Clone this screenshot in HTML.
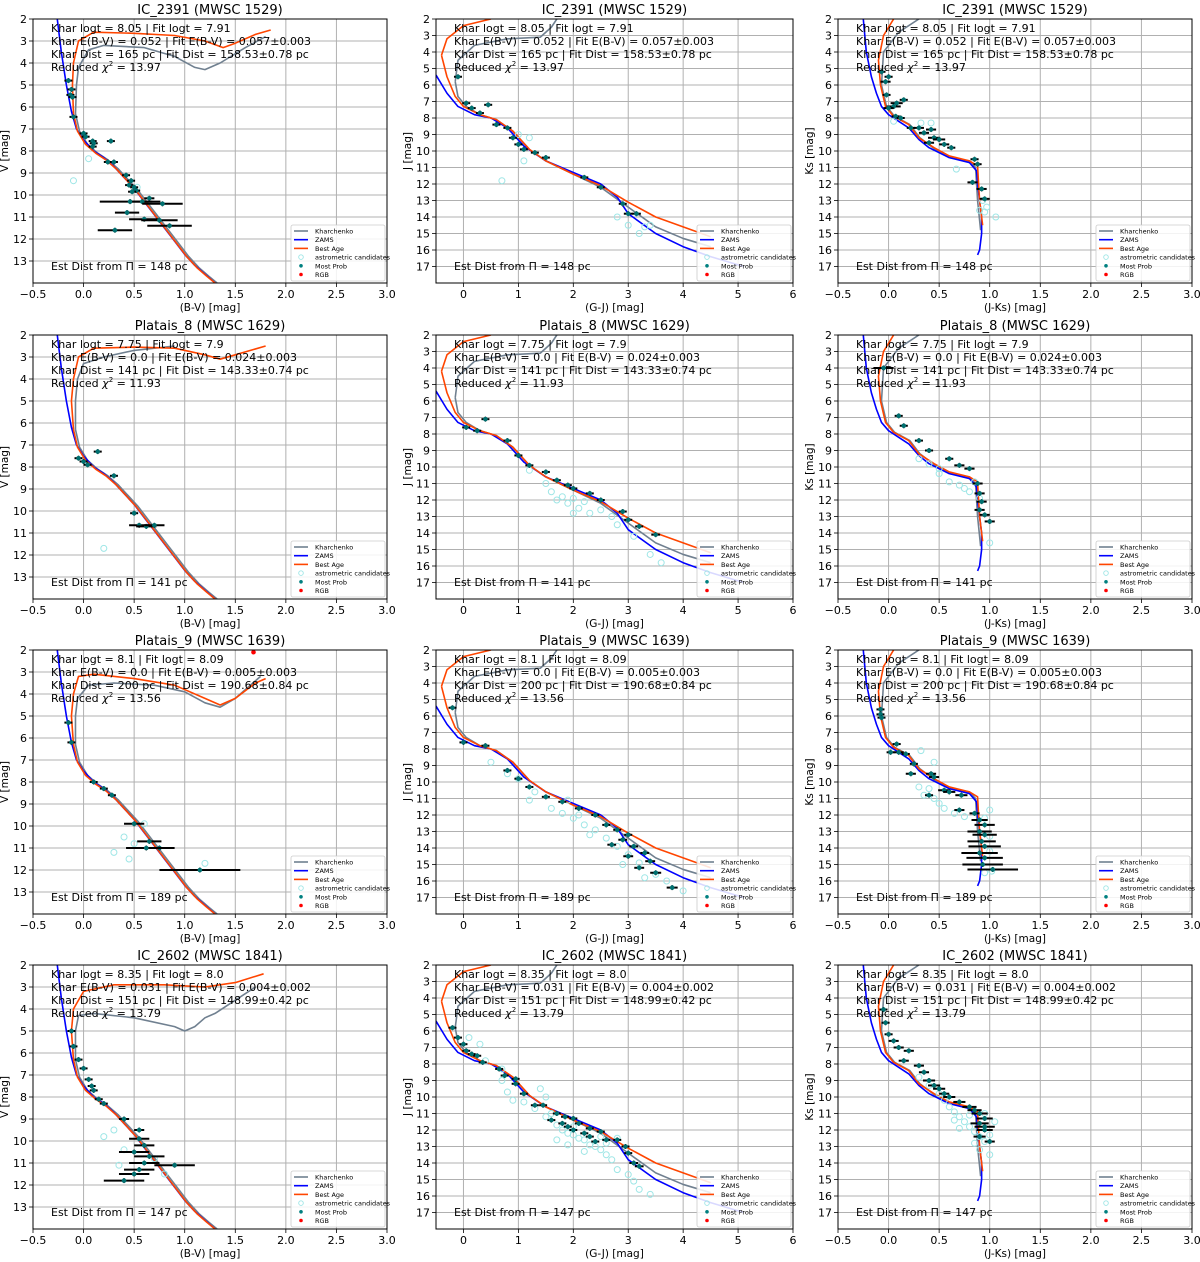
<!DOCTYPE html>
<html><head><meta charset="utf-8">
<style>
html,body{margin:0;padding:0;background:#fff;}
svg{display:block;font-family:"DejaVu Sans","Liberation Sans",sans-serif;}
</style></head>
<body>
<svg id="fig" width="1200" height="1262" viewBox="0 0 1200 1262"></svg>
<script>
// ---------- DATA ----------
const clusterTitles = ["IC_2391 (MWSC 1529)","Platais_8 (MWSC 1629)","Platais_9 (MWSC 1639)","IC_2602 (MWSC 1841)"];
const annLogt = ["Khar logt = 8.05 | Fit logt = 7.91","Khar logt = 7.75 | Fit logt = 7.9","Khar logt = 8.1 | Fit logt = 8.09","Khar logt = 8.35 | Fit logt = 8.0"];
const annEbv = ["Khar E(B-V) = 0.052  |  Fit E(B-V) = 0.057±0.003","Khar E(B-V) = 0.0  |  Fit E(B-V) = 0.024±0.003","Khar E(B-V) = 0.0  |  Fit E(B-V) = 0.005±0.003","Khar E(B-V) = 0.031  |  Fit E(B-V) = 0.004±0.002"];
const annDist = ["Khar Dist = 165 pc  |  Fit Dist = 158.53±0.78 pc","Khar Dist = 141 pc  |  Fit Dist = 143.33±0.74 pc","Khar Dist = 200 pc  |  Fit Dist = 190.68±0.84 pc","Khar Dist = 151 pc  |  Fit Dist = 148.99±0.42 pc"];
const annChi = ["13.97","11.93","13.56","13.79"];
const annPlx = ["148","141","189","147"];

const xTicksBV = [-0.5,0.0,0.5,1.0,1.5,2.0,2.5,3.0];
const xTicksGJ = [0,1,2,3,4,5,6];
const yTicksV = [2,3,4,5,6,7,8,9,10,11,12,13];
const yTicksJ = [2,3,4,5,6,7,8,9,10,11,12,13,14,15,16,17];

const zamsBV = [[-0.26,2],[-0.22,3.5],[-0.17,5],[-0.12,6.2],[-0.07,7.0],[0.0,7.5],[0.1,8.0],[0.2,8.3],[0.3,8.7],[0.4,9.2],[0.5,9.7],[0.6,10.3],[0.7,10.9],[0.8,11.5],[0.9,12.1],[1.0,12.7],[1.1,13.2],[1.2,13.6],[1.3,14.0]];
const bestBV = [[-0.1,6.3],[-0.06,7.1],[0.02,7.7],[0.12,8.1],[0.22,8.4],[0.32,8.8],[0.42,9.3],[0.52,9.8],[0.62,10.4],[0.72,11.0],[0.82,11.6],[0.92,12.2],[1.02,12.8],[1.12,13.3],[1.22,13.7],[1.3,14.0]];
const khBV = [[-0.08,6.3],[-0.04,7.1],[0.04,7.7],[0.14,8.1],[0.24,8.4],[0.34,8.8],[0.44,9.3],[0.54,9.8],[0.64,10.4],[0.74,11.0],[0.84,11.6],[0.94,12.2],[1.04,12.8],[1.14,13.3],[1.24,13.7],[1.32,14.0]];
const upBestBV = [
 [[-0.1,6.3],[-0.11,5],[-0.1,4],[-0.05,3.0],[0.1,2.6],[0.5,2.65],[0.9,2.75],[1.2,3.0],[1.38,3.3],[1.5,3.1],[1.7,2.7],[1.85,2.5]],
 [[-0.1,6.3],[-0.12,5],[-0.1,4],[-0.05,3.0],[0.1,2.6],[0.5,2.55],[0.9,2.6],[1.2,2.9],[1.35,3.1],[1.5,2.9],[1.8,2.5]],
 [[-0.1,6.3],[-0.12,5],[-0.1,4],[-0.05,3.2],[0.1,3.1],[0.5,3.3],[0.9,3.6],[1.2,4.2],[1.35,4.5],[1.5,4.2],[1.7,3.5],[1.8,3.3]],
 [[-0.1,6.3],[-0.12,5],[-0.1,4],[0.0,3.2],[0.3,2.9],[0.8,2.9],[1.2,3.0],[1.5,2.8],[1.78,2.4]]];
const upKhBV = [
 [[-0.08,6.3],[-0.07,5],[-0.05,4.2],[0.05,3.4],[0.2,3.2],[0.6,3.3],[0.9,3.7],[1.1,4.2],[1.2,4.3],[1.35,4.0],[1.6,3.3],[1.8,2.8]],
 [[-0.08,6.3],[-0.08,5],[-0.06,4.0],[0.0,3.3],[0.2,3.0],[0.5,2.7],[0.9,2.5]],
 [[-0.08,6.3],[-0.08,5],[-0.06,4.2],[0.05,3.6],[0.3,3.5],[0.7,3.6],[1.0,3.9],[1.2,4.4],[1.35,4.6],[1.5,4.2],[1.75,3.2]],
 [[-0.08,6.3],[-0.08,5],[-0.05,4.3],[0.1,4.2],[0.5,4.4],[0.9,4.8],[1.0,5.0],[1.1,4.8],[1.2,4.4],[1.3,4.2],[1.5,3.6],[1.7,3.0]]];

const zamsGJ = [[-0.5,5.4],[-0.3,6.5],[-0.1,7.3],[0.2,7.8],[0.5,8.0],[0.8,8.6],[1.1,9.7],[1.5,10.6],[2,11.3],[2.5,12.0],[2.8,12.8],[3,13.8],[3.5,15.0],[4,15.8],[4.5,16.4],[5.1,17.0]];
const bestGJ = [[-0.4,4.2],[-0.3,5.5],[-0.15,6.7],[0.0,7.3],[0.3,7.8],[0.6,8.1],[0.9,8.8],[1.2,9.9],[1.5,10.6],[2,11.4],[2.5,12.1],[3,13.1],[3.5,14.0],[4,14.6],[4.5,15.2]];
const khGJ = [[-0.15,5.8],[-0.1,6.7],[0.05,7.3],[0.3,7.8],[0.6,8.1],[0.9,8.8],[1.2,9.9],[1.5,10.6],[2,11.4],[2.5,12.2],[3,13.4],[3.5,14.6],[4,15.3],[4.5,15.8]];
const upBestGJ = [[-0.4,4.2],[-0.3,3.2],[0.0,2.4],[0.5,2.0]];
const upKhGJ = [[-0.15,5.8],[-0.1,4.5],[0.2,3.6],[0.8,3.2],[1.4,3.1],[1.6,2.5],[1.7,2.0]];

const zamsJK = [[-0.25,2],[-0.22,4],[-0.17,5.5],[-0.12,6.5],[-0.07,7.3],[0.0,7.8],[0.1,8.2],[0.2,8.6],[0.3,9.3],[0.4,9.8],[0.6,10.4],[0.8,10.7],[0.87,11.2],[0.88,12],[0.9,13],[0.92,14],[0.92,15],[0.9,16],[0.88,16.3]];
const bestJK = [[0.05,2],[-0.05,3],[-0.1,4.5],[-0.08,6],[-0.03,7.3],[0.05,7.9],[0.2,8.4],[0.3,9.2],[0.45,9.8],[0.6,10.3],[0.8,10.6],[0.88,10.9],[0.89,12],[0.9,13],[0.93,14.5]];
const khJK = [[0.3,2],[0.1,2.8],[-0.05,4.0],[-0.07,6],[-0.02,7.3],[0.06,7.9],[0.21,8.4],[0.31,9.2],[0.46,9.9],[0.6,10.4],[0.8,10.6],[0.86,11.0],[0.87,12],[0.88,13],[0.91,14.8]];

const mpBV = [
 [[-0.15,4.8,0.01],[-0.12,5.2,0.01],[-0.13,5.45,0.01],[-0.11,5.55,0.01],[-0.1,6.45,0.01],[0.0,7.2,0.01],[0.02,7.35,0.01],[0.09,7.55,0.02],[0.1,7.65,0.02],[0.09,7.8,0.02],[0.27,7.55,0.02],[0.24,8.5,0.02],[0.3,8.5,0.02],[0.42,9.1,0.03],[0.47,9.35,0.03],[0.45,9.55,0.03],[0.5,9.65,0.03],[0.52,9.8,0.03],[0.48,9.85,0.04],[0.65,10.15,0.05],[0.46,10.3,0.3],[0.58,10.3,0.1],[0.78,10.4,0.2],[0.43,10.8,0.12],[0.6,11.1,0.15],[0.75,11.15,0.18],[0.85,11.4,0.22],[0.31,11.6,0.17]],
 [[-0.05,7.6,0.01],[0.0,7.75,0.01],[0.04,7.9,0.01],[0.14,7.3,0.01],[0.3,8.4,0.01],[0.5,10.1,0.03],[0.55,10.65,0.1],[0.62,10.7,0.1],[0.7,10.65,0.1]],
 [[-0.15,5.3,0.01],[-0.12,6.2,0.01],[0.1,8.0,0.02],[0.2,8.3,0.02],[0.28,8.6,0.02],[0.5,9.9,0.1],[0.65,10.7,0.12],[0.75,11.0,0.15],[0.62,11.0,0.2],[1.15,12.0,0.4]],
 [[-0.12,5.0,0.01],[-0.1,5.7,0.01],[-0.05,6.3,0.01],[0.0,6.7,0.01],[0.05,7.2,0.01],[0.08,7.5,0.01],[0.1,7.7,0.02],[0.15,8.1,0.02],[0.2,8.3,0.02],[0.4,9.0,0.05],[0.55,9.5,0.05],[0.55,9.9,0.1],[0.6,10.2,0.1],[0.5,10.5,0.15],[0.65,10.7,0.15],[0.9,11.1,0.2],[0.55,11.3,0.15],[0.5,11.5,0.15],[0.4,11.8,0.2],[0.6,11.0,0.15]]];
const candBV = [
 [[0.05,8.35],[-0.1,9.35],[0.53,9.65]],
 [[0.2,11.7]],
 [[0.4,10.5],[0.5,10.8],[0.45,11.5],[1.2,11.7],[0.3,11.2],[0.6,9.9]],
 [[0.2,9.8],[0.3,9.5],[0.4,10.4],[0.7,10.8],[0.35,11.1],[0.8,11.5]]];
const rgbBV = [[],[],[[1.68,2.1]],[]];

const mpGJ = [
 [[-0.1,5.5,0.02],[0.05,7.1,0.03],[0.15,7.4,0.03],[0.3,7.7,0.03],[0.45,7.2,0.03],[0.6,8.4,0.03],[0.8,8.6,0.04],[0.9,9.2,0.04],[1.0,9.6,0.04],[1.1,9.9,0.05],[1.3,10.1,0.05],[1.5,10.4,0.05],[2.2,11.6,0.05],[2.5,12.2,0.06],[2.9,13.2,0.07],[3.0,13.8,0.08],[3.15,13.8,0.08]],
 [[0.05,7.6,0.03],[0.25,7.8,0.03],[0.4,7.1,0.03],[0.8,8.4,0.03],[1.0,9.3,0.04],[1.2,9.9,0.04],[1.5,10.3,0.05],[1.7,10.8,0.05],[1.9,11.1,0.05],[2.0,11.3,0.05],[2.3,11.6,0.06],[2.5,12.0,0.06],[2.9,12.7,0.06],[3.0,13.2,0.07],[3.2,13.6,0.07],[3.5,14.1,0.08]],
 [[-0.2,5.5,0.02],[0.0,7.6,0.03],[0.4,7.8,0.03],[0.8,9.3,0.04],[1.0,9.8,0.05],[1.2,10.3,0.05],[1.5,10.9,0.05],[1.8,11.2,0.05],[2.1,11.6,0.06],[2.4,12.0,0.06],[2.6,12.6,0.06],[2.8,12.9,0.07],[3.0,13.2,0.07],[2.9,13.5,0.08],[3.1,13.9,0.08],[3.3,14.3,0.08],[2.7,13.8,0.08],[3.4,14.8,0.09],[3.2,15.2,0.09],[3.5,15.5,0.1],[3.0,14.5,0.09],[3.8,16.4,0.1]],
 [[-0.2,5.8,0.02],[-0.1,6.4,0.02],[0.0,6.8,0.02],[0.05,7.2,0.02],[0.15,7.4,0.03],[0.25,7.5,0.03],[0.35,7.9,0.03],[0.65,8.3,0.03],[0.75,8.7,0.03],[0.95,8.9,0.04],[0.95,9.2,0.04],[1.1,9.8,0.04],[1.3,10.5,0.04],[1.45,10.5,0.05],[1.7,11.0,0.05],[1.85,11.2,0.05],[2.0,11.3,0.05],[1.8,11.6,0.05],[2.1,11.6,0.05],[2.3,11.9,0.05],[2.0,12.0,0.05],[2.2,12.2,0.05],[2.5,12.1,0.05],[2.4,12.7,0.05],[2.6,12.6,0.06],[2.8,12.6,0.06],[2.95,13.0,0.07],[3.0,13.4,0.07],[3.1,14.0,0.08],[3.2,14.2,0.08],[1.6,11.4,0.05],[1.9,11.8,0.05],[2.3,12.4,0.05]]];
const candGJ = [
 [[1.0,9.0],[1.2,9.2],[1.1,10.6],[0.7,11.8],[2.8,14.0],[3.0,14.5],[3.2,15.0],[3.3,14.6],[3.4,14.5]],
 [[1.6,11.5],[1.8,11.8],[1.9,12.2],[2.0,11.9],[2.1,12.5],[2.2,12.1],[2.3,12.8],[1.7,12.0],[2.5,12.6],[2.7,13.0],[2.8,13.5],[3.1,14.2],[3.4,15.3],[3.6,15.8],[2.0,12.8],[1.5,11.0],[1.2,10.2]],
 [[0.8,9.5],[1.0,9.8],[1.3,10.6],[1.6,11.6],[1.8,11.9],[2.0,12.2],[2.2,12.6],[2.4,12.9],[2.6,13.4],[2.8,13.9],[3.0,14.4],[3.2,14.9],[3.5,15.6],[3.7,16.0],[1.2,11.1],[1.9,11.1],[2.1,12.0],[2.3,13.2],[2.9,15.0],[3.3,15.8],[4.0,16.6],[0.5,8.8]],
 [[0.3,6.8],[0.4,7.8],[0.7,8.3],[0.7,9.0],[0.8,9.7],[0.9,10.2],[1.1,10.3],[1.3,10.7],[1.4,9.5],[1.5,10.0],[1.5,11.2],[1.6,11.0],[1.7,11.7],[1.8,12.0],[1.9,12.2],[2.0,12.3],[2.1,12.5],[2.2,12.6],[2.3,12.9],[2.4,13.0],[2.5,13.2],[2.6,13.5],[2.7,13.8],[2.8,12.5],[2.8,14.4],[3.0,14.7],[3.1,15.1],[3.2,15.6],[3.4,15.9],[1.7,12.6],[1.9,12.9],[2.2,13.3],[2.5,12.4],[2.0,11.8],[2.6,12.8],[0.1,6.4]]];

const mpJK = [
 [[-0.07,5.2,0.03],[0.0,5.5,0.04],[-0.03,5.8,0.05],[-0.02,6.6,0.03],[0.08,7.1,0.06],[0.05,7.3,0.07],[0.0,7.4,0.05],[0.15,6.9,0.04],[0.07,7.9,0.04],[0.12,8.0,0.04],[0.22,8.6,0.04],[0.3,8.6,0.05],[0.35,8.9,0.05],[0.42,8.7,0.05],[0.45,9.2,0.06],[0.5,9.3,0.06],[0.4,9.5,0.05],[0.55,9.6,0.05],[0.62,9.8,0.04],[0.85,10.5,0.04],[0.88,10.8,0.04],[0.83,11.9,0.05],[0.92,12.3,0.05],[0.95,12.9,0.05]],
 [[-0.05,4.0,0.1],[0.1,6.9,0.04],[0.15,7.5,0.04],[0.3,8.4,0.04],[0.4,9.0,0.04],[0.6,9.5,0.04],[0.7,9.9,0.05],[0.8,10.1,0.05],[0.88,11.0,0.05],[0.9,11.6,0.05],[0.92,12.1,0.05],[0.9,12.6,0.05],[0.95,12.9,0.05],[1.0,13.3,0.05]],
 [[-0.08,5.6,0.03],[-0.08,5.9,0.03],[-0.07,6.1,0.03],[0.08,7.7,0.04],[0.02,8.2,0.03],[0.1,8.2,0.05],[0.17,8.3,0.04],[0.25,8.9,0.04],[0.22,9.5,0.05],[0.42,9.5,0.05],[0.45,9.7,0.05],[0.55,10.5,0.06],[0.6,10.6,0.06],[0.72,10.8,0.06],[0.4,10.8,0.04],[0.7,11.7,0.05],[0.85,11.9,0.05],[0.9,12.3,0.08],[0.95,12.6,0.1],[0.9,13.0,0.12],[0.95,13.2,0.12],[0.92,13.6,0.14],[0.95,13.9,0.16],[0.9,14.3,0.18],[0.95,14.6,0.18],[0.93,15.0,0.2],[1.03,15.3,0.25]],
 [[-0.05,4.7,0.03],[-0.03,5.5,0.04],[0.0,6.2,0.04],[0.05,6.6,0.05],[0.1,7.0,0.05],[0.2,7.2,0.05],[0.15,7.8,0.05],[0.3,8.1,0.05],[0.35,8.5,0.05],[0.4,9.0,0.06],[0.45,9.3,0.06],[0.5,9.5,0.06],[0.55,9.8,0.05],[0.6,10.0,0.06],[0.7,10.3,0.06],[0.8,10.6,0.07],[0.85,10.8,0.07],[0.9,11.0,0.08],[0.95,11.3,0.08],[0.9,11.6,0.09],[0.95,12.0,0.08],[0.9,12.4,0.06],[1.0,12.7,0.05],[0.95,11.8,0.1]]];
const candJK = [
 [[0.05,8.2],[0.32,8.3],[0.42,8.3],[0.67,11.1],[0.9,13.6],[0.97,13.4],[0.95,13.7],[1.06,14.0],[0.93,13.0]],
 [[0.3,9.5],[0.4,9.8],[0.5,10.4],[0.6,10.9],[0.7,11.1],[0.8,11.5],[0.9,11.9],[1.0,14.6],[0.85,10.9],[0.75,11.3],[0.5,10.1]],
 [[0.32,8.1],[0.45,8.8],[0.3,10.3],[0.35,10.8],[0.45,11.0],[0.5,11.3],[0.55,11.6],[0.65,11.9],[0.75,12.1],[0.95,12.2],[1.0,11.7],[1.0,13.3],[1.0,14.2],[1.02,15.4],[0.95,15.5],[0.4,10.4]],
 [[0.3,8.8],[0.4,9.3],[0.5,9.8],[0.55,10.2],[0.6,10.6],[0.65,10.9],[0.7,11.2],[0.75,11.5],[0.8,11.8],[0.85,12.1],[0.9,12.4],[0.95,12.7],[1.0,12.3],[0.9,13.2],[1.0,13.5],[0.85,12.8],[0.7,11.9],[0.65,11.4],[0.95,11.0],[1.05,11.5],[0.8,11.1]]];

// ---------- DRAWING ----------
const NS="http://www.w3.org/2000/svg";
const svg=document.getElementById('fig');
function mk(tag,attrs,parent){const e=document.createElementNS(NS,tag);for(const k in attrs)e.setAttribute(k,attrs[k]);(parent||svg).appendChild(e);return e;}

const colL=[33,436,838], colR=[387,793,1192];
const rowT=[19,335,650,965], H=264;
const xDom=[[-0.5,3.0],[-0.5,6.0],[-0.5,3.0]];
const yDom=[[2,14],[2,18],[2,18]];
const xLab=["(B-V) [mag]","(G-J) [mag]","(J-Ks) [mag]"];
const yLab=["V [mag]","J [mag]","Ks [mag]"];

function panel(r,c){
  const g=mk('g',{});
  
  
  const L=colL[c],R=colR[c],T=rowT[r],B=T+H;
  const sx=v=>L+(v-xDom[c][0])/(xDom[c][1]-xDom[c][0])*(R-L);
  const sy=v=>T+(v-yDom[c][0])/(yDom[c][1]-yDom[c][0])*H;
  const clipId='clip'+r+c;
  const cp=mk('clipPath',{id:clipId},g); mk('rect',{x:L,y:T,width:R-L,height:H},cp);
  const xt=c===1?xTicksGJ:xTicksBV, yt=c===0?yTicksV:yTicksJ;
  const grid=mk('g',{},g);
   
  xt.forEach(v=>{const x=sx(v);mk('line',{x1:x,x2:x,y1:T,y2:B,stroke:'#b0b0b0','stroke-width':1},grid);
    mk('line',{x1:x,x2:x,y1:B,y2:B+4,stroke:'#000','stroke-width':0.8},g);
    const t=mk('text',{x:x,y:B+15,'font-size':11,'text-anchor':'middle'},g);t.textContent=(c===1?String(v):(v<0?'\u22120.5':v.toFixed(1)));
    });
  yt.forEach(v=>{const y=sy(v);mk('line',{x1:L,x2:R,y1:y,y2:y,stroke:'#b0b0b0','stroke-width':1},grid);
    mk('line',{x1:L-4,x2:L,y1:y,y2:y,stroke:'#000','stroke-width':0.8},g);
    const t=mk('text',{x:L-6,y:y+4,'font-size':11,'text-anchor':'end'},g);t.textContent=v;
    });
  const data=mk('g',{'clip-path':'url(#'+clipId+')'},g);
  function line(pts,col,name){const p=mk('polyline',{points:pts.map(q=>sx(q[0])+','+sy(q[1])).join(' '),fill:'none',stroke:col,'stroke-width':1.6,'stroke-linejoin':'round'},data);
    }
  let cand,mp,rgb=[];
  if(c===0){ line(khBV,'#708090','kharchenko-isochrone');line(upKhBV[r],'#708090','kharchenko-upper');
    line(zamsBV,'#0000ff','zams-line');line(bestBV,'#ff4500','best-age-isochrone');line(upBestBV[r],'#ff4500','best-age-upper');
    cand=candBV[r];mp=mpBV[r];rgb=rgbBV[r];}
  else if(c===1){ line(khGJ,'#708090','kharchenko-isochrone');line(upKhGJ,'#708090','kharchenko-upper');
    line(zamsGJ,'#0000ff','zams-line');line(bestGJ,'#ff4500','best-age-isochrone');line(upBestGJ,'#ff4500','best-age-upper');
    cand=candGJ[r];mp=mpGJ[r];}
  else { line(khJK,'#708090','kharchenko-isochrone');line(zamsJK,'#0000ff','zams-line');line(bestJK,'#ff4500','best-age-isochrone');
    cand=candJK[r];mp=mpJK[r];}
  cand.forEach(p=>{const e=mk('circle',{cx:sx(p[0]),cy:sy(p[1]),r:3,fill:'none',stroke:'#9ee6e6','stroke-width':1},data);
    });
  mp.forEach(p=>{const x=sx(p[0]),y=sy(p[1]);
    const x1=Math.min(sx(p[0]-p[2]),x-4), x2=Math.max(sx(p[0]+p[2]),x+4);
    mk('line',{x1:x1,x2:x2,y1:y,y2:y,stroke:'#000','stroke-width':2},data);
    mk('line',{x1:x,x2:x,y1:y-2.5,y2:y+2.5,stroke:'#000','stroke-width':1.3},data);
    const e=mk('circle',{cx:x,cy:y,r:2.3,fill:'#007070'},data);
    });
  rgb.forEach(p=>{const e=mk('circle',{cx:sx(p[0]),cy:sy(p[1]),r:2.3,fill:'#ff0000'},data);
    });
  mk('rect',{x:L,y:T,width:R-L,height:H,fill:'none',stroke:'#000','stroke-width':1},g);
  const tt=mk('text',{x:(L+R)/2,y:T-5,'font-size':13,'text-anchor':'middle'},g);tt.textContent=clusterTitles[r];
  
  const xl=mk('text',{x:(L+R)/2,y:B+28,'font-size':10.5,'text-anchor':'middle'},g);xl.textContent=xLab[c];
  
  const yx=L-25,yy=(T+B)/2;
  const yl=mk('text',{x:yx,y:yy,'font-size':10.5,'text-anchor':'middle',transform:'rotate(-90 '+yx+' '+yy+')'},g);yl.textContent=yLab[c];
  
  const ax=L+18;
  [annLogt[r],annEbv[r],annDist[r]].forEach((s,i)=>{const t=mk('text',{x:ax,y:T+13+i*13,'font-size':11},g);t.textContent=s;
    });
  const tc=mk('text',{x:ax,y:T+52,'font-size':11},g);
  
  tc.innerHTML='Reduced <tspan font-style="italic">χ</tspan><tspan dy="-5" font-size="7">2</tspan><tspan dy="5"> = '+annChi[r]+'</tspan>';
  const tp=mk('text',{x:ax,y:B-13,'font-size':11},g);tp.textContent='Est Dist from Π = '+annPlx[r]+' pc';
  
  const lw=94,lh=56,lx=R-lw-2,ly=B-lh-2;
  const lg=mk('g',{},g);
  mk('rect',{x:lx,y:ly,width:lw,height:lh,fill:'#fff','fill-opacity':0.85,stroke:'#ccc','stroke-width':0.8,rx:2},lg);
  const items=[['Kharchenko','line','#708090'],['ZAMS','line','#0000ff'],['Best Age','line','#ff4500'],['astrometric candidates','open','#9ee6e6'],['Most Prob','dot','#008080'],['RGB','dot','#ff0000']];
  items.forEach((it,i)=>{const y=ly+6+i*8.7;
    if(it[1]==='line')mk('line',{x1:lx+3,x2:lx+17,y1:y,y2:y,stroke:it[2],'stroke-width':1.6},lg);
    else if(it[1]==='open')mk('circle',{cx:lx+10,cy:y,r:2.3,fill:'none',stroke:it[2],'stroke-width':0.9},lg);
    else mk('circle',{cx:lx+10,cy:y,r:1.8,fill:it[2]},lg);
    const t=mk('text',{x:lx+24,y:y+2.5,'font-size':6.5},lg);t.textContent=it[0];
    });
}
for(let r=0;r<4;r++)for(let c=0;c<3;c++)panel(r,c);
</script>
</body></html>
